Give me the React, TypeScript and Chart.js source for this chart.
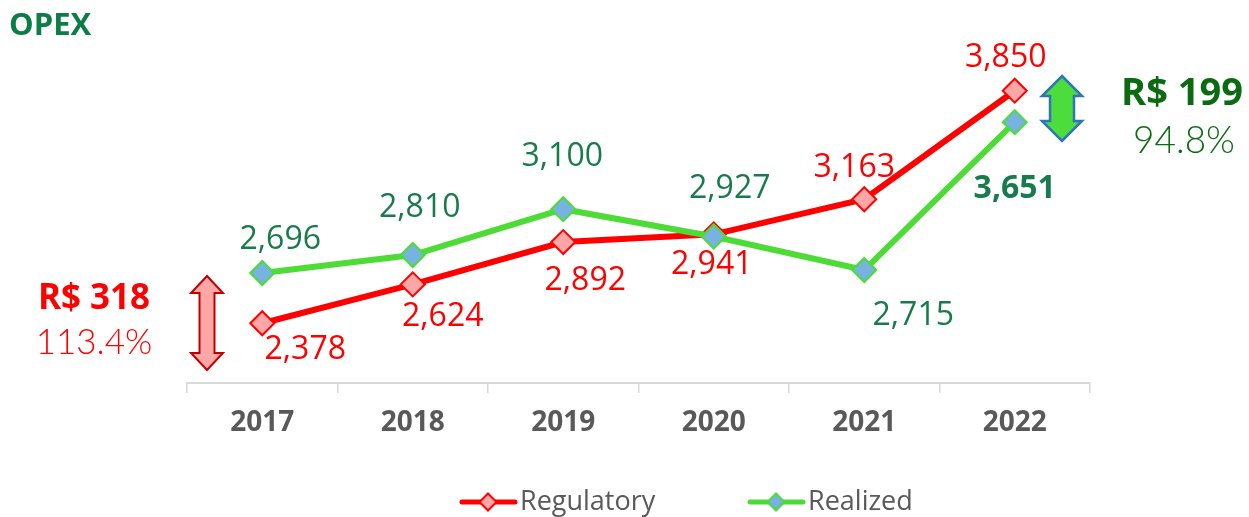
import React, { useEffect, useRef } from 'react';
import { Chart, registerables } from 'chart.js';

Chart.register(...registerables);

// OPEX by year, R$
const years = ['2017', '2018', '2019', '2020', '2021', '2022'];
const regulatory = [2378, 2624, 2892, 2941, 3163, 3850];
const realized = [2696, 2810, 3100, 2927, 2715, 3651];
const seriesNames = ['Regulatory', 'Realized'];
const valueMin = 2000;
const valueMax = 4000;

const W = 1249;
const H = 517;

const RED = '#ff0000';
const RED_FILL = '#ffa6a6';
const GREEN_LINE = '#4ddc36';
const BLUE_FILL = '#78b2e3';
const LABEL_GREEN = '#177b4b';
const DARK_GREEN = '#0c6b12';
const GRAY = '#595959';

const fmt = (v: number) => v.toLocaleString('en-US');

// label placement (dx, dy from each point to the label centre)
const regulatoryLabelOffsets = [[43, 27], [30, 32], [22, 39], [-2, 31], [-10, -31], [-9, -33]];
const realizedLabelOffsets = [[18, -33], [7, -47], [-1, -52], [16, -48], [49, 46], [0, 67]];
const realizedBold = [false, false, false, false, false, true];

function drawDoubleArrow(
  ctx: CanvasRenderingContext2D,
  cx: number, top: number, bottom: number,
  headHalf: number, shaftHalf: number, headH: number,
  fill: string, stroke: string, lw: number,
) {
  ctx.save();
  ctx.beginPath();
  ctx.moveTo(cx, top);
  ctx.lineTo(cx + headHalf, top + headH);
  ctx.lineTo(cx + shaftHalf, top + headH);
  ctx.lineTo(cx + shaftHalf, bottom - headH);
  ctx.lineTo(cx + headHalf, bottom - headH);
  ctx.lineTo(cx, bottom);
  ctx.lineTo(cx - headHalf, bottom - headH);
  ctx.lineTo(cx - shaftHalf, bottom - headH);
  ctx.lineTo(cx - shaftHalf, top + headH);
  ctx.lineTo(cx - headHalf, top + headH);
  ctx.closePath();
  ctx.fillStyle = fill;
  ctx.fill();
  ctx.lineWidth = lw;
  ctx.strokeStyle = stroke;
  ctx.lineJoin = 'miter';
  ctx.stroke();
  ctx.restore();
}

function drawDiamond(ctx: CanvasRenderingContext2D, x: number, y: number, r: number, fill: string, stroke: string, lw: number) {
  ctx.beginPath();
  ctx.moveTo(x, y - r);
  ctx.lineTo(x + r, y);
  ctx.lineTo(x, y + r);
  ctx.lineTo(x - r, y);
  ctx.closePath();
  ctx.fillStyle = fill;
  ctx.fill();
  ctx.lineWidth = lw;
  ctx.strokeStyle = stroke;
  ctx.stroke();
}

// value labels next to each point
const valueLabels = {
  id: 'valueLabels',
  afterDatasetsDraw(chart: any) {
    const ctx: CanvasRenderingContext2D = chart.ctx;
    ctx.save();
    ctx.textAlign = 'center';
    ctx.textBaseline = 'middle';
    chart.data.datasets.forEach((ds: any, di: number) => {
      const meta = chart.getDatasetMeta(di);
      meta.data.forEach((pt: any, i: number) => {
        const [dx, dy] = ds.labelOffsets[i];
        const bold = ds.labelBold ? ds.labelBold[i] : false;
        ctx.font = `${bold ? 'bold ' : ''}32px "Open Sans"`;
        ctx.fillStyle = ds.labelColor;
        ctx.fillText(fmt(ds.data[i]), pt.x + dx, pt.y + dy);
      });
    });
    ctx.restore();
  },
};

// title, gap callouts and legend
const decorations = {
  id: 'decorations',
  afterDraw(chart: any) {
    const ctx: CanvasRenderingContext2D = chart.ctx;
    const area = chart.chartArea;
    ctx.save();

    // title
    ctx.font = 'bold 31px "Open Sans"';
    ctx.fillStyle = '#0b7d45';
    ctx.textAlign = 'left';
    ctx.textBaseline = 'alphabetic';
    ctx.fillText('OPEX', 9, 35);

    // first-year gap
    const gapFirst = realized[0] - regulatory[0];
    const ratioFirst = (realized[0] / regulatory[0]) * 100;
    drawDoubleArrow(ctx, area.left + 20, area.top + 209, area.bottom - 13, 16, 7.5, 17, RED_FILL, '#c00000', 2);
    ctx.textAlign = 'center';
    ctx.fillStyle = RED;
    ctx.font = 'bold 35px "Open Sans"';
    ctx.fillText(`R$ ${fmt(Math.abs(gapFirst))}`, area.left - 93, 309);
    ctx.font = '300 35px Lato';
    ctx.fillText(`${ratioFirst.toFixed(1)}%`, area.left - 93, 354);

    // last-year gap
    const n = years.length - 1;
    const gapLast = regulatory[n] - realized[n];
    const ratioLast = (realized[n] / regulatory[n]) * 100;
    drawDoubleArrow(ctx, area.right - 28, area.top + 9, area.top + 74, 20, 12, 20, '#4cdc3c', '#2e75b6', 2.5);
    ctx.fillStyle = DARK_GREEN;
    ctx.font = 'bold 38px "Open Sans"';
    ctx.fillText(`R$ ${fmt(Math.abs(gapLast))}`, area.right + 92, 105);
    ctx.font = '300 37px Lato';
    ctx.fillText(`${ratioLast.toFixed(1)}%`, area.right + 94, 153);

    // legend
    const ly = 502;
    const items = [
      { x: 460, line: RED, fill: RED_FILL, stroke: RED, name: seriesNames[0] },
      { x: 748, line: GREEN_LINE, fill: BLUE_FILL, stroke: GREEN_LINE, name: seriesNames[1] },
    ];
    items.forEach((it) => {
      ctx.beginPath();
      ctx.lineCap = 'round';
      ctx.lineWidth = 5;
      ctx.strokeStyle = it.line;
      ctx.moveTo(it.x + 2, ly);
      ctx.lineTo(it.x + 55, ly);
      ctx.stroke();
      ctx.lineCap = 'butt';
      drawDiamond(ctx, it.x + 28, ly, 8.5, it.fill, it.stroke, 2);
      ctx.font = '27px "Open Sans"';
      ctx.fillStyle = GRAY;
      ctx.textAlign = 'left';
      ctx.textBaseline = 'middle';
      ctx.fillText(it.name, it.x + 60, ly);
    });

    ctx.restore();
  },
};

export default function App() {
  const canvasRef = useRef<HTMLCanvasElement | null>(null);

  useEffect(() => {
    if (!canvasRef.current) return;
    const chart = new Chart(canvasRef.current, {
      type: 'line',
      data: {
        labels: years,
        datasets: [
          {
            label: seriesNames[0],
            data: regulatory,
            borderColor: RED,
            borderWidth: 6,
            backgroundColor: RED_FILL,
            pointStyle: 'rectRot',
            pointRadius: 12,
            pointBorderWidth: 2,
            pointBorderColor: RED,
            pointBackgroundColor: RED_FILL,
            tension: 0,
            order: 2,
            labelOffsets: regulatoryLabelOffsets,
            labelColor: RED,
          } as any,
          {
            label: seriesNames[1],
            data: realized,
            borderColor: GREEN_LINE,
            borderWidth: 6,
            backgroundColor: BLUE_FILL,
            pointStyle: 'rectRot',
            pointRadius: 12,
            pointBorderWidth: 2,
            pointBorderColor: GREEN_LINE,
            pointBackgroundColor: BLUE_FILL,
            tension: 0,
            order: 1,
            labelOffsets: realizedLabelOffsets,
            labelColor: LABEL_GREEN,
            labelBold: realizedBold,
          } as any,
        ],
      },
      options: {
        responsive: false,
        animation: false,
        devicePixelRatio: 1,
        layout: { padding: { left: 187, right: 159, top: 67, bottom: 0 } },
        plugins: {
          legend: { display: false },
          title: { display: false },
          tooltip: { enabled: false },
        },
        scales: {
          x: {
            type: 'category',
            offset: true,
            grid: {
              offset: true,
              drawOnChartArea: false,
              drawTicks: true,
              tickLength: 10,
              color: '#d9d9d9',
              lineWidth: 1.5,
            },
            border: { display: true, color: '#d9d9d9', width: 2 },
            ticks: {
              color: GRAY,
              padding: 13,
              font: { family: '"Open Sans"', weight: 'bold', size: 28 },
            },
            afterFit: (scale: any) => {
              scale.height = 134;
            },
          },
          y: {
            display: false,
            min: valueMin,
            max: valueMax,
          },
        },
      },
      plugins: [valueLabels, decorations],
    });
    return () => chart.destroy();
  }, []);

  return (
    <div style={{ position: 'fixed', left: 0, top: 0, width: W, height: H, background: '#ffffff' }}>
      <canvas ref={canvasRef} width={W} height={H} style={{ display: 'block', width: W, height: H }} />
    </div>
  );
}
